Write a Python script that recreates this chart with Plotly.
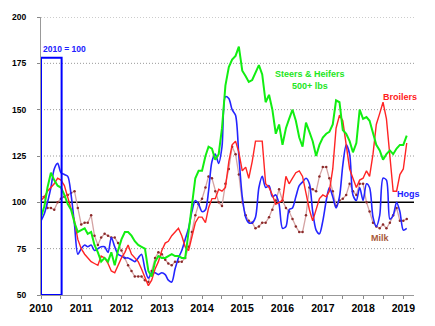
import pandas as pd
import plotly.graph_objects as go

# Monthly index values (2010 = 100), Jan 2010 .. Feb 2019
months = pd.date_range("2010-01-01", periods=110, freq="MS")

steers_heifers = [
    92, 98, 108, 116, 112, 109, 108, 104, 99, 96, 89, 84,
    85, 86, 83, 84, 77, 73, 68, 70, 68, 73, 66, 74,
    80, 84, 84, 82, 79, 77, 76, 75, 63, 60, 68, 71,
    70, 70, 71, 72, 71, 71, 70, 70, 84, 100, 113, 117,
    117, 125, 130, 129, 123, 126, 140, 163, 173, 177, 179, 184,
    171, 168, 165, 166, 170, 174, 169, 154, 158, 150, 137, 142,
    131, 140, 145, 150, 144, 135, 130, 143, 138, 133, 125, 131,
    135, 137, 138, 142, 155, 154, 139, 137, 133, 127, 132, 150,
    145, 146, 144, 137, 131, 128, 123, 126, 128, 126, 129, 131,
    131, 136,
]

broilers = [
    101, 103, 106, 108, 110, 113, 112, 109, 103, 97, 90, 80,
    75, 72, 70, 68, 67, 66, 71, 70, 67, 63, 62, 66,
    70, 73, 77, 72, 70, 68, 64, 59, 55, 58, 64, 68,
    74, 78, 79, 82, 84, 86, 82, 76, 74, 82, 89, 92,
    92, 89, 97, 102, 102, 107, 106, 108, 122, 131, 133, 127,
    117, 119, 113, 122, 133, 133, 133, 110, 108, 104, 99, 100,
    101, 114, 110, 113, 116, 117, 114, 105, 96, 90, 96, 102,
    104, 103, 106, 118, 140, 147, 144, 132, 118, 113, 108, 112,
    113, 117, 114, 126, 142, 148, 154, 145, 127, 106, 106, 115,
    118, 132,
]

hogs = [
    90, 94, 100, 108, 118, 121, 116, 115, 114, 104, 88, 72,
    75, 77, 76, 77, 74, 75, 76, 76, 73, 81, 76, 72,
    71, 70, 70, 69, 68, 70, 72, 64, 59, 62, 62, 61,
    62, 61, 58, 57, 64, 70, 74, 80, 86, 95, 101, 99,
    95, 96, 106, 122, 126, 121, 130, 157, 156, 150, 147, 125,
    103, 92, 89, 89, 92, 108, 114, 108, 109, 103, 104, 99,
    86, 87, 96, 97, 103, 109, 111, 113, 110, 95, 85, 83,
    90, 101, 108, 103, 97, 103, 120, 131, 126, 104, 101, 108,
    101, 110, 108, 92, 87, 93, 113, 112, 91, 93, 100, 95,
    85, 86,
]

milk = [
    103, 103, 97, 97, 96, 100, 102, 103, 104, 105, 106, 97,
    88, 89, 89, 93, 82, 77, 81, 83, 82, 81, 81, 78,
    74, 70, 66, 63, 60, 60, 60, 58, 57, 63, 70, 73,
    72, 69, 67, 66, 68, 68, 68, 70, 76, 84, 93, 99,
    102, 108, 114, 113, 106, 100, 98, 110, 118, 130, 126, 115,
    100, 93, 90, 89, 86, 87, 89, 89, 92, 96, 101, 107,
    101, 97, 95, 91, 87, 84, 84, 93, 108, 107, 106, 114,
    119, 119, 113, 106, 98, 101, 102, 104, 110, 106, 104, 110,
    110, 100, 95, 89, 87, 86, 88, 86, 89, 93, 97, 90,
    90, 91,
]

year_ticks = pd.date_range("2010-01-01", "2019-01-01", freq="6MS")
year_labels = [str(d.year) if d.month == 1 else "" for d in year_ticks]
y_ticks = [50, 75, 100, 125, 150, 175, 200]
grid_levels = [75, 125, 150, 175, 200]

FONT = "Liberation Sans, Arial, sans-serif"

fig = go.Figure()
fig.add_trace(go.Scatter(x=months, y=milk, mode="lines+markers",
                         line=dict(color="#D4A3A3", width=1.3),
                         marker=dict(color="#8B2A2A", size=2.5)))
fig.add_trace(go.Scatter(x=months, y=hogs, mode="lines",
                         line=dict(color="#2424FF", width=1.6, shape="spline", smoothing=0.8)))
fig.add_trace(go.Scatter(x=months, y=broilers, mode="lines",
                         line=dict(color="#FF2424", width=1.4)))
fig.add_trace(go.Scatter(x=months, y=steers_heifers, mode="lines",
                         line=dict(color="#12EE12", width=2)))

# dotted grid (except at 100)
for g in grid_levels:
    fig.add_hline(y=g, line=dict(color="#999", width=1, dash="1px,2px"), layer="below")
# reference line at 100
fig.add_hline(y=100, line=dict(color="black", width=1.5), layer="below")
# base period box
fig.add_shape(type="rect", x0="2010-01-01", x1="2010-07-07", y0=50, y1=178,
              line=dict(color="#0000FF", width=2))

ann = [
    dict(x="2010-01-01", y=183, text="<b>2010 = 100</b>", color="#2020FF", xanchor="left", size=8.5),
    dict(x="2016-09-03", y=166, text="<b>Steers & Heifers<br>500+ lbs</b>", color="#22E622", xanchor="center", size=9),
    dict(x="2018-12-03", y=157, text="<b>Broilers</b>", color="#FF2020", xanchor="center", size=9),
    dict(x="2019-02-13", y=104.7, text="<b>Hogs</b>", color="#2020FF", xanchor="center", size=9),
    dict(x="2018-06-01", y=80.5, text="<b>Milk</b>", color="#A8583A", xanchor="center", size=9),
]
for a in ann:
    fig.add_annotation(x=a["x"], y=a["y"], text=a["text"], showarrow=False,
                       xanchor=a["xanchor"], yanchor="middle", align="center",
                       font=dict(family=FONT, size=a["size"], color=a["color"]))

fig.update_layout(
    width=435, height=326,
    margin=dict(l=36, r=21, t=12, b=29),
    paper_bgcolor="white", plot_bgcolor="white",
    showlegend=False,
    font=dict(family=FONT, color="black"),
)
fig.update_xaxes(
    type="date", range=["2010-01-01", "2019-04-08"],
    tickvals=year_ticks, ticktext=year_labels,
    tickfont=dict(family=FONT, size=10.5, color="black", weight="bold"),
    ticks="outside", ticklen=3, tickcolor="#888",
    showline=True, linecolor="#999", linewidth=1,
    showgrid=False, zeroline=False,
)
fig.update_yaxes(
    range=[50, 200], tickvals=y_ticks,
    tickfont=dict(family=FONT, size=8.5, color="black", weight="bold"),
    ticks="outside", ticklen=3, tickcolor="#888", ticklabelstandoff=9,
    showline=True, linecolor="#999", linewidth=1,
    showgrid=False, zeroline=False,
)

fig.write_html("out.html")
